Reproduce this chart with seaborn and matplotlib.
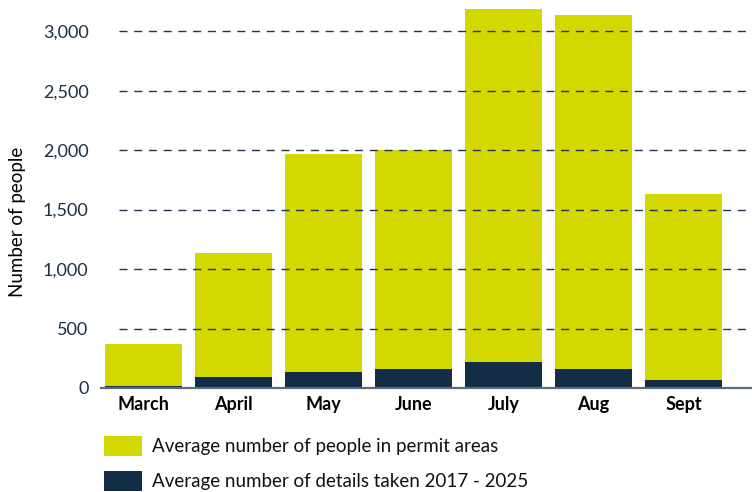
import matplotlib
matplotlib.use("Agg")
import matplotlib.pyplot as plt
import seaborn as sns
import pandas as pd
from matplotlib.patches import Patch

# ------------------------------
# DATA
# ------------------------------
months = ["March", "April", "May", "June", "July", "Aug", "Sept"]
people_in_permit_areas = [372, 1138, 1968, 2003, 3188, 3135, 1630]
details_taken = [18, 93, 135, 158, 217, 158, 66]
y_ticks = [0, 500, 1000, 1500, 2000, 2500, 3000]

YELLOW = "#D3D800"
NAVY = "#132D46"

df = pd.DataFrame({"month": months,
                   "people": people_in_permit_areas,
                   "details": details_taken})

sns.set_style("white")
plt.rcParams["font.family"] = ["Lato", "DejaVu Sans"]

fig = plt.figure(figsize=(7.52, 4.92), dpi=100)
ax = fig.add_axes([101 / 752, 1 - 388 / 492, 651 / 752, 388 / 492])

sns.barplot(data=df, x="month", y="people", color=YELLOW, width=0.855,
            saturation=1, linewidth=0, ax=ax, zorder=1)
sns.barplot(data=df, x="month", y="details", color=NAVY, width=0.855,
            saturation=1, linewidth=0, ax=ax, zorder=2)

ax.set_xlim(-0.47, 6.76)
ax.set_ylim(0, 3262)

# dashed gridlines drawn over the bars
for t in y_ticks[1:]:
    ax.axhline(t, xmin=18 / 651, xmax=1, color="#1F3550", lw=1.0,
               dashes=(5.8, 4.8), zorder=3)

ax.set_yticks(y_ticks)
ax.set_yticklabels([f"{t:,}" for t in y_ticks], fontsize=13, color="#1C2F45")
ax.set_xticklabels(months, fontsize=13, fontweight="bold", color="black")
ax.tick_params(axis="both", length=0)
ax.tick_params(axis="y", pad=9)
ax.tick_params(axis="x", pad=6)
ax.set_xlabel("")
ax.set_ylabel("")

for s in ["top", "right", "left"]:
    ax.spines[s].set_visible(False)
ax.spines["bottom"].set_color("#5B6B7B")
ax.spines["bottom"].set_linewidth(1.6)
ax.spines["bottom"].set_zorder(4)

fig.text(18 / 752, 1 - 222 / 492, "Number of people", rotation=90,
         ha="center", va="center", fontsize=13.5, color="black")

handles = [Patch(facecolor=YELLOW, edgecolor="none"),
           Patch(facecolor=NAVY, edgecolor="none")]
labels = ["Average number of people in permit areas",
          "Average number of details taken 2017 - 2025"]
fig.legend(handles, labels, loc="upper left",
           bbox_to_anchor=(104 / 752, 1 - 436 / 492),
           frameon=False, fontsize=13.5, borderpad=0, borderaxespad=0,
           handlelength=2.0, handleheight=1.25, handletextpad=0.55,
           labelspacing=0.8, labelcolor="#111111")

fig.savefig("out.png", dpi=100)
